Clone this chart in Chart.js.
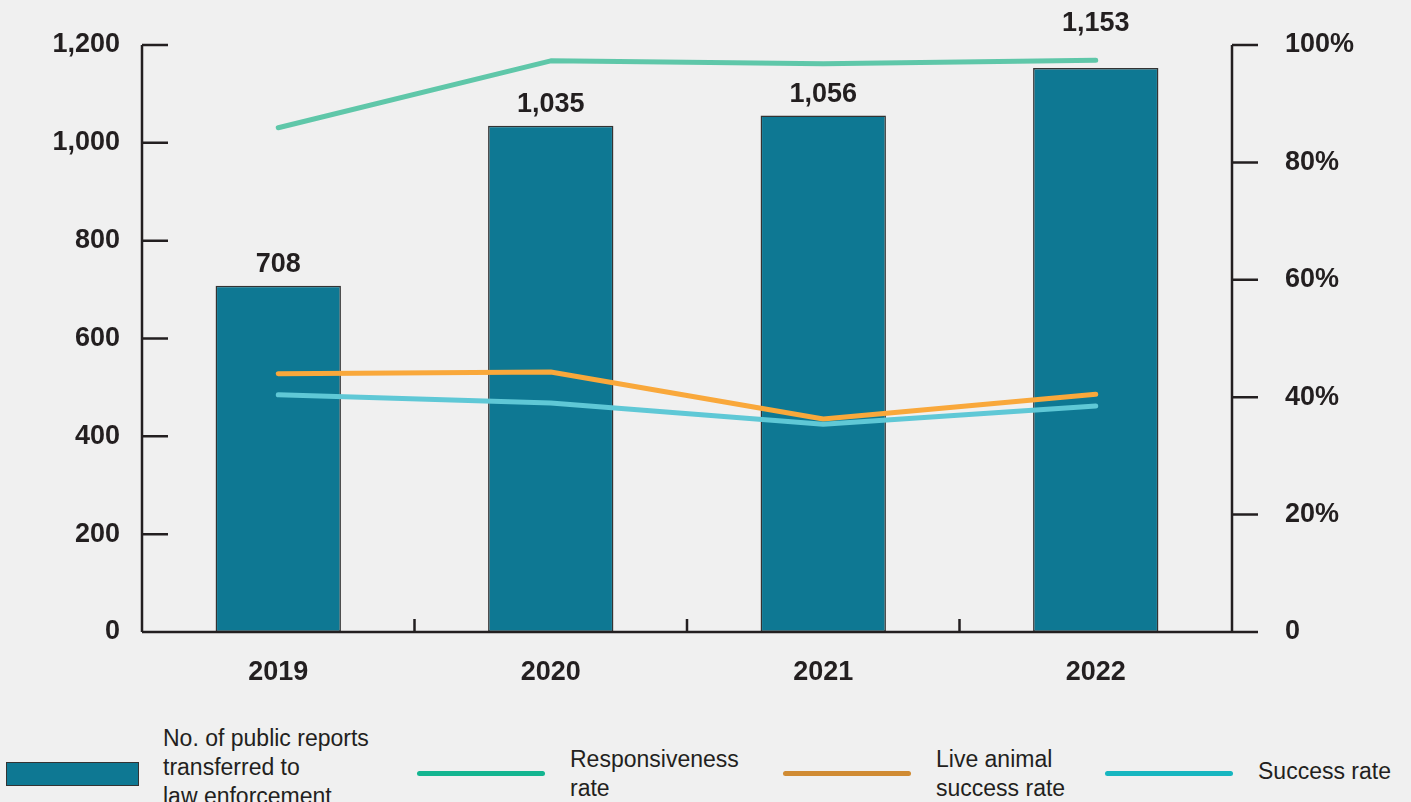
<!DOCTYPE html>
<html>
<head>
<meta charset="utf-8">
<script src="https://cdn.jsdelivr.net/npm/chart.js@4.4.1/dist/chart.umd.min.js"></script>
<style>
  html, body { margin:0; padding:0; background:#f0f0f0; width:1411px; height:802px; overflow:hidden; font-family:"Liberation Sans", Arial, sans-serif; }
  #wrap { position:absolute; left:0; top:0; width:1411px; height:712px; }
  .lg { position:absolute; color:#231f20; font-size:23px; line-height:29px; white-space:nowrap; }
  .sw { position:absolute; }
</style>
</head>
<body>
<div id="wrap"><canvas id="c" width="1411" height="712"></canvas></div>

<div class="sw" style="left:6px;top:762px;width:131px;height:22px;background:#0e7893;border:1.5px solid #333;"></div>
<div class="lg" style="left:163px;top:724px;">No. of public reports<br>transferred to<br>law enforcement</div>

<div class="sw" style="left:417px;top:771px;width:128px;height:5px;background:#14b590;border-radius:3px;"></div>
<div class="lg" style="left:570px;top:745px;">Responsiveness<br>rate</div>

<div class="sw" style="left:783px;top:771px;width:128px;height:5px;background:#d08b33;border-radius:3px;"></div>
<div class="lg" style="left:936px;top:745px;">Live animal<br>success rate</div>

<div class="sw" style="left:1105px;top:771px;width:128px;height:5px;background:#17b6c0;border-radius:3px;"></div>
<div class="lg" style="left:1258px;top:757px;">Success rate</div>

<script>
const years = ["2019", "2020", "2021", "2022"];
const reports = [708, 1035, 1056, 1153];
const responsiveness = [85.9, 97.3, 96.8, 97.4];
const liveAnimalSuccess = [44.0, 44.3, 36.3, 40.5];
const successRate = [40.4, 39.0, 35.4, 38.5];
const leftTicks = [0, 200, 400, 600, 800, 1000, 1200];
const rightTicks = [0, 20, 40, 60, 80, 100];

const INK = "#231f20";
const tickFont = { family: "Liberation Sans, Arial, sans-serif", size: 27, weight: "bold" };

const axesPlugin = {
  id: "customAxes",
  afterDatasetsDraw(chart) {
    const ctx = chart.ctx;
    const x = chart.scales.x, y = chart.scales.y, y1 = chart.scales.y1;
    const ca = chart.chartArea;
    ctx.save();
    ctx.strokeStyle = INK;
    ctx.lineWidth = 2.5;
    ctx.lineCap = "butt";
    ctx.beginPath();
    ctx.moveTo(ca.left, y.getPixelForValue(1200));
    ctx.lineTo(ca.left, ca.bottom);
    leftTicks.forEach(v => {
      const py = y.getPixelForValue(v);
      ctx.moveTo(ca.left, py); ctx.lineTo(ca.left + 26, py);
    });
    ctx.moveTo(ca.right, y1.getPixelForValue(100));
    ctx.lineTo(ca.right, ca.bottom);
    rightTicks.forEach(v => {
      const py = y1.getPixelForValue(v);
      ctx.moveTo(ca.right, py); ctx.lineTo(ca.right + 26, py);
    });
    ctx.moveTo(ca.left, ca.bottom);
    ctx.lineTo(ca.right + 26, ca.bottom);
    for (let i = 0; i < years.length - 1; i++) {
      const px = (x.getPixelForValue(i) + x.getPixelForValue(i + 1)) / 2;
      ctx.moveTo(px, ca.bottom); ctx.lineTo(px, ca.bottom - 13);
    }
    ctx.stroke();

    // bar value labels (lifted above any line passing through the label spot)
    const meta = chart.getDatasetMeta(0);
    const lineMetas = [1, 2, 3].map(i => chart.getDatasetMeta(i));
    ctx.fillStyle = INK;
    ctx.font = "bold 27px 'Liberation Sans', Arial, sans-serif";
    ctx.textAlign = "center";
    ctx.textBaseline = "middle";
    meta.data.forEach((bar, i) => {
      let ly = bar.y - 21;
      lineMetas.forEach(m => {
        const p = m.data[i];
        if (p && Math.abs(p.y - ly) < 18) ly = Math.min(ly, p.y - 37);
      });
      ctx.fillText(reports[i].toLocaleString("en-US"), bar.x, ly);
    });
    ctx.restore();
  }
};

new Chart(document.getElementById("c"), {
  type: "bar",
  data: {
    labels: years,
    datasets: [
      {
        type: "bar",
        label: "No. of public reports transferred to law enforcement",
        data: reports,
        yAxisID: "y",
        backgroundColor: "#0e7893",
        borderColor: "#333333",
        borderWidth: 1.5,
        borderSkipped: false,
        barPercentage: 0.46,
        categoryPercentage: 1,
        order: 2
      },
      {
        type: "line",
        label: "Responsiveness rate",
        data: responsiveness,
        yAxisID: "y1",
        borderColor: "#5fc7a9",
        borderWidth: 5,
        pointRadius: 0,
        borderCapStyle: "round",
        borderJoinStyle: "round",
        tension: 0,
        order: 1
      },
      {
        type: "line",
        label: "Live animal success rate",
        data: liveAnimalSuccess,
        yAxisID: "y1",
        borderColor: "#f9a83b",
        borderWidth: 5,
        pointRadius: 0,
        borderCapStyle: "round",
        borderJoinStyle: "round",
        tension: 0,
        order: 1
      },
      {
        type: "line",
        label: "Success rate",
        data: successRate,
        yAxisID: "y1",
        borderColor: "#5fc8d6",
        borderWidth: 5,
        pointRadius: 0,
        borderCapStyle: "round",
        borderJoinStyle: "round",
        tension: 0,
        order: 0
      }
    ]
  },
  options: {
    responsive: false,
    animation: false,
    layout: { padding: { top: 45, left: 0, right: 0, bottom: 0 } },
    plugins: { legend: { display: false }, tooltip: { enabled: false } },
    scales: {
      x: {
        grid: { display: false, drawTicks: false },
        border: { display: false },
        ticks: { color: INK, font: tickFont, padding: 24, maxRotation: 0 },
        afterFit(s) { s.height = 80; }
      },
      y: {
        position: "left",
        min: 0, max: 1200,
        afterBuildTicks(s) { s.ticks = leftTicks.map(v => ({ value: v })); },
        grid: { display: false, drawTicks: false },
        border: { display: false },
        ticks: { color: INK, font: tickFont, padding: 22, callback: v => v.toLocaleString("en-US") },
        afterFit(s) { s.width = 142; }
      },
      y1: {
        position: "right",
        min: 0, max: 100,
        afterBuildTicks(s) { s.ticks = rightTicks.map(v => ({ value: v })); },
        grid: { display: false, drawTicks: true, tickLength: 31 },
        border: { display: false },
        ticks: { color: INK, font: tickFont, padding: 22, callback: v => v === 0 ? "0" : v + "%" },
        afterFit(s) { s.width = 179; }
      }
    }
  },
  plugins: [axesPlugin]
});
</script>
</body>
</html>
